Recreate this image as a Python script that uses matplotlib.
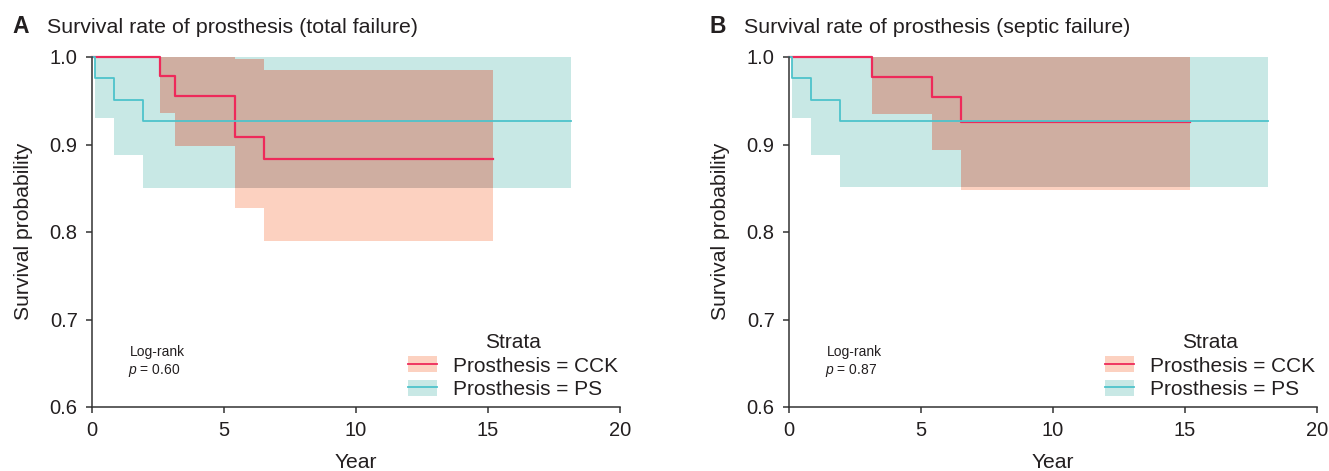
import numpy as np
import matplotlib
matplotlib.use('Agg')
import matplotlib.pyplot as plt
from matplotlib.patches import Patch
from matplotlib.lines import Line2D

plt.rcParams['font.family'] = ['Liberation Sans', 'DejaVu Sans']
plt.rcParams['mathtext.fontset'] = 'custom'
plt.rcParams['mathtext.rm'] = 'Liberation Sans'
plt.rcParams['mathtext.it'] = 'Liberation Sans:italic'

# total failure (panel A)
a_ps_time = [0.11, 0.84, 1.94]
a_ps_surv = [0.976, 0.951, 0.927]
a_ps_low = [0.930, 0.888, 0.850]
a_ps_up = [1.0, 1.0, 1.0]
a_ps_end = 18.15

a_cck_time = [2.56, 3.14, 5.40, 6.53]
a_cck_surv = [0.978, 0.956, 0.909, 0.883]
a_cck_low = [0.936, 0.898, 0.828, 0.790]
a_cck_up = [1.0, 1.0, 0.998, 0.985]
a_cck_end = 15.18

# septic failure (panel B)
b_ps_time = [0.10, 0.84, 1.93]
b_ps_surv = [0.976, 0.951, 0.927]
b_ps_low = [0.930, 0.888, 0.851]
b_ps_up = [1.0, 1.0, 1.0]
b_ps_end = 18.14

b_cck_time = [3.16, 5.40, 6.51]
b_cck_surv = [0.977, 0.954, 0.926]
b_cck_low = [0.935, 0.894, 0.848]
b_cck_up = [1.0, 1.0, 1.0]
b_cck_end = 15.20

panels = [
    ('A', 'Survival rate of prosthesis (total failure)', '0.60',
     (a_cck_time, a_cck_surv, a_cck_low, a_cck_up, a_cck_end),
     (a_ps_time, a_ps_surv, a_ps_low, a_ps_up, a_ps_end)),
    ('B', 'Survival rate of prosthesis (septic failure)', '0.87',
     (b_cck_time, b_cck_surv, b_cck_low, b_cck_up, b_cck_end),
     (b_ps_time, b_ps_surv, b_ps_low, b_ps_up, b_ps_end)),
]

x_ticks = [0, 5, 10, 15, 20]
y_ticks = [0.6, 0.7, 0.8, 0.9, 1.0]

cck_line = '#EE2A5A'
ps_line = '#4EC3CB'
cck_fill = '#FCD1C0'
ps_fill = '#C8E8E5'
both_fill = '#CFAEA1'
ink = '#231F20'
axis_col = '#333333'

W, H = 1329, 471


def px(x, y):
    return x / W, 1 - y / H


def band(grp):
    t, s, lo, up, end = grp
    return t + [end], lo + [lo[-1]], up + [up[-1]]


def at(t, vals, g):
    i = np.searchsorted(t, g, side='right') - 1
    return vals[i]


def overlap(g1, g2):
    t1, lo1, up1 = band(g1)
    t2, lo2, up2 = band(g2)
    start = max(t1[0], t2[0])
    stop = min(t1[-1], t2[-1])
    grid = sorted(set([g for g in t1 + t2 if start <= g <= stop] + [start, stop]))
    lo = np.array([max(at(t1, lo1, g), at(t2, lo2, g)) for g in grid])
    up = np.array([min(at(t1, up1, g), at(t2, up2, g)) for g in grid])
    up = np.maximum(up, lo)
    return grid, lo, up


fig = plt.figure(figsize=(W / 100, H / 100), dpi=100)

lefts = [92, 789]
for (tag, title, pval, cck, ps), left in zip(panels, lefts):
    ax = fig.add_axes([left / W, 64 / H, 528 / W, 350 / H])

    t, lo, up = band(ps)
    ax.fill_between(t, lo, up, step='post', color=ps_fill, lw=0)
    t, lo, up = band(cck)
    ax.fill_between(t, lo, up, step='post', color=cck_fill, lw=0)
    t, lo, up = overlap(cck, ps)
    ax.fill_between(t, lo, up, step='post', color=both_fill, lw=0)

    for grp, c, lw in [(cck, cck_line, 1.6), (ps, ps_line, 1.3)]:
        tt, s, _, _, end = grp
        ax.step([0] + tt + [end], [1.0] + s + [s[-1]], where='post',
                color=c, lw=lw, clip_on=False)

    ax.set_xlim(0, 20)
    ax.set_ylim(0.6, 1.0)
    ax.set_xticks(x_ticks)
    ax.set_xticklabels([str(v) for v in x_ticks])
    ax.set_yticks(y_ticks)
    ax.set_yticklabels(['%.1f' % v for v in y_ticks])
    for side in ['top', 'right']:
        ax.spines[side].set_visible(False)
    for side in ['left', 'bottom']:
        ax.spines[side].set_color(axis_col)
        ax.spines[side].set_linewidth(1.1)
    ax.tick_params(length=4.3, width=1.1, color=axis_col, labelsize=14.5,
                   labelcolor=ink, pad=6)

    ax.text(1.45, 0.663, 'Log-rank', fontsize=10, color=ink, va='center')
    ax.text(1.37, 0.642, r'$p$ = ' + pval, fontsize=10, color=ink, va='center')

    handles = [(Patch(color=cck_fill, lw=0), Line2D([], [], color=cck_line, lw=1.3)),
               (Patch(color=ps_fill, lw=0), Line2D([], [], color=ps_line, lw=1.3))]
    leg = ax.legend(handles, ['Prosthesis = CCK', 'Prosthesis = PS'],
                    title='Strata', loc='center', bbox_to_anchor=(0.797, 0.117),
                    frameon=False, fontsize=15, title_fontsize=15,
                    handlelength=1.4, handleheight=0.8, handletextpad=0.75,
                    labelspacing=0.2, borderpad=0, borderaxespad=0)
    for txt in leg.get_texts():
        txt.set_color(ink)
    leg.get_title().set_color(ink)

    fig.text(*px(left - 79.3, 33.3), tag, fontsize=16.5, fontweight='bold',
             color=ink, va='baseline')
    fig.text(*px(left - 45, 33.3), title, fontsize=15.4, color=ink, va='baseline')
    fig.text(*px(left - 68, 231.5), 'Survival probability', fontsize=15.2,
             color=ink, rotation=90, ha='center', va='center')
    fig.text(*px(left + 264, 453), 'Year', fontsize=15.2, color=ink,
             ha='center', va='top')

fig.savefig('out.png', dpi=100)
